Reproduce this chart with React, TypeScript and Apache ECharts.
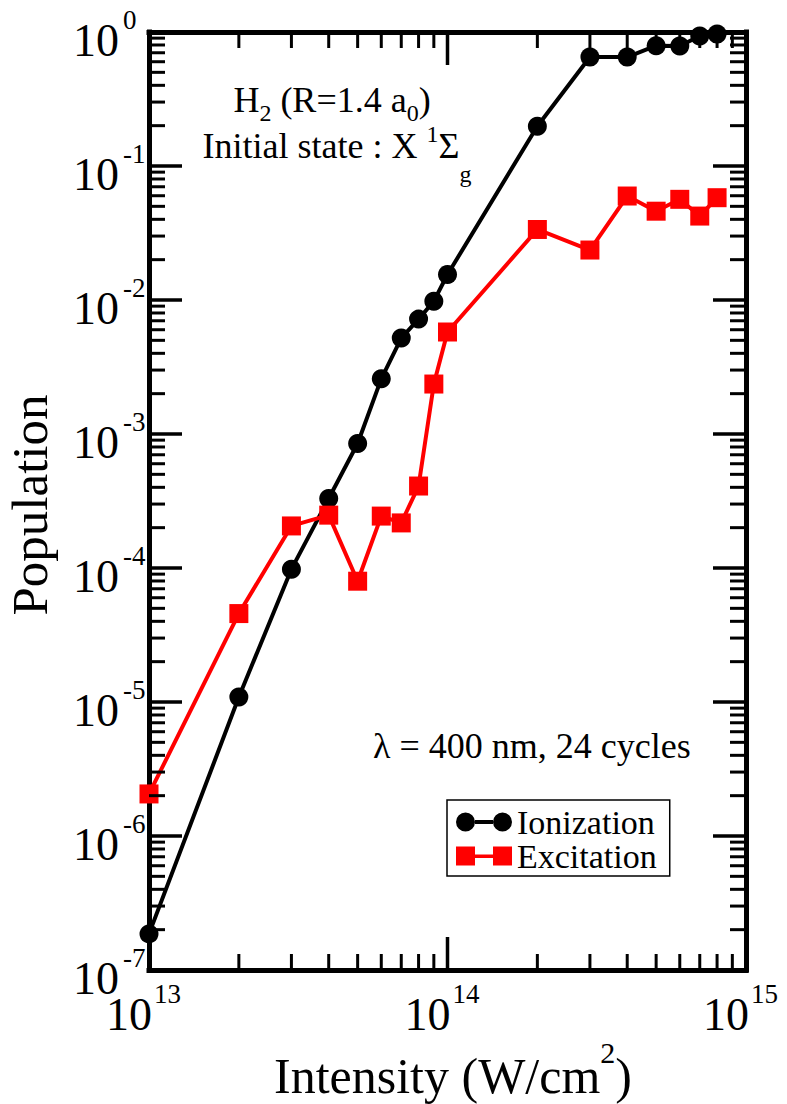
import React, { useEffect, useRef } from 'react';
import * as echarts from 'echarts';

// Laser intensity (W/cm^2)
const intensities = [1e13, 2e13, 3e13, 4e13, 5e13, 6e13, 7e13, 8e13, 9e13, 1e14, 2e14, 3e14, 4e14, 5e14, 6e14, 7e14, 8e14];
// Population values
const ionization = [1.86e-7, 1.09e-5, 9.8e-5, 3.3e-4, 8.5e-4, 2.58e-3, 5.2e-3, 7.2e-3, 9.8e-3, 1.55e-2, 0.198, 0.65, 0.65, 0.79, 0.785, 0.935, 0.965];
const excitation = [2.06e-6, 4.57e-5, 2.06e-4, 2.48e-4, 7.97e-5, 2.44e-4, 2.17e-4, 4.09e-4, 2.36e-3, 5.77e-3, 3.36e-2, 2.36e-2, 5.97e-2, 4.6e-2, 5.64e-2, 4.23e-2, 5.8e-2];

// Tick values
const xMajorTicks = [1e13, 1e14, 1e15];
const yMajorTicks = [1e-7, 1e-6, 1e-5, 1e-4, 1e-3, 1e-2, 1e-1, 1];
const minorMultipliers = [2, 3, 4, 5, 6, 7, 8, 9];
const xMinorTicks = xMajorTicks.slice(0, -1).flatMap((d) => minorMultipliers.map((m) => m * d));
const yMinorTicks = yMajorTicks.slice(0, -1).flatMap((d) => minorMultipliers.map((m) => m * d));

const seriesNames = ['Ionization', 'Excitation'];
const FONT = 'Liberation Serif';

const frameAxis = (position: string, min: number, max: number) => ({
  type: 'log',
  logBase: 10,
  position,
  min,
  max,
  axisLine: { show: true, lineStyle: { color: '#000', width: 5, cap: 'square' } },
  axisTick: { show: false },
  minorTick: { show: false },
  axisLabel: { show: false },
  splitLine: { show: false },
});

const circIcon = 'path://M0,9.5A9.5,9.5,0,1,1,19,9.5A9.5,9.5,0,1,1,0,9.5Z M19,7.5H37V11.5H19Z M37,9.5A9.5,9.5,0,1,1,56,9.5A9.5,9.5,0,1,1,37,9.5Z';
const rectIcon = 'path://M0,0H19V19H0Z M19,8H37V11.5H19Z M37,0H56V19H37Z';

const textGraphics: any[] = [
  {
    type: 'text',
    x: 332,
    y: 72,
    style: {
      text: '{m|H}{sb|2}{m| (R=1.4 a}{sb|0}{m|)}',
      align: 'center',
      verticalAlign: 'top',
      lineHeight: 60,
      rich: {
        m: { fontSize: 36, fontFamily: FONT, fill: '#000', verticalAlign: 'top', padding: [10, 0, 0, 0] },
        sb: { fontSize: 24, fontFamily: FONT, fill: '#000', verticalAlign: 'top', padding: [29, 0, 0, 0] },
      },
    },
  },
  {
    type: 'text',
    x: 337,
    y: 118,
    style: {
      text: '{m|Initial state : X }{sp|1}{m|Σ}{sb|g}',
      align: 'center',
      verticalAlign: 'top',
      lineHeight: 70,
      rich: {
        m: { fontSize: 36, fontFamily: FONT, fill: '#000', verticalAlign: 'top', padding: [10, 0, 0, 0] },
        sp: { fontSize: 24, fontFamily: FONT, fill: '#000', verticalAlign: 'top', padding: [4, 0, 0, 0] },
        sb: { fontSize: 24, fontFamily: FONT, fill: '#000', verticalAlign: 'top', padding: [44, 0, 0, 0] },
      },
    },
  },
  {
    type: 'text',
    x: 373,
    y: 746,
    style: { text: 'λ = 400 nm, 24 cycles', fontSize: 36, fontFamily: FONT, fill: '#000', align: 'left', verticalAlign: 'middle' },
  },
  {
    type: 'text',
    x: 453,
    y: 1030,
    style: {
      text: '{m|Intensity (W/cm}{s|2}{m|)}',
      align: 'center',
      verticalAlign: 'top',
      lineHeight: 70,
      rich: {
        m: { fontSize: 50, fontFamily: FONT, fill: '#000', verticalAlign: 'top', padding: [21, 0, 0, 0] },
        s: { fontSize: 30, fontFamily: FONT, fill: '#000', verticalAlign: 'top', padding: [7, 0, 0, 0] },
      },
    },
  },
  {
    type: 'text',
    x: 30,
    y: 505,
    rotation: Math.PI / 2,
    style: { text: 'Population', fontSize: 51, fontFamily: FONT, fill: '#000', align: 'center', verticalAlign: 'middle' },
  },
];

export default function App() {
  const ref = useRef<HTMLDivElement>(null);
  useEffect(() => {
    if (!ref.current) return;
    const chart = echarts.init(ref.current, undefined, { renderer: 'svg' });
    chart.setOption({
      animation: false,
      backgroundColor: '#fff',
      grid: { left: 149, right: 41, top: 32, bottom: 134, containLabel: false, outerBoundsMode: 'none' },
      xAxis: [frameAxis('bottom', 1e13, 1e15), frameAxis('top', 1e13, 1e15)],
      yAxis: [frameAxis('left', 1e-7, 1), frameAxis('right', 1e-7, 1)],
      legend: {
        orient: 'vertical',
        left: 447,
        top: 800,
        padding: [5, 13, 3, 9],
        itemGap: 0,
        itemWidth: 56,
        itemHeight: 19,
        backgroundColor: '#fff',
        borderColor: '#000',
        borderWidth: 1.5,
        borderRadius: 0,
        textStyle: { fontFamily: FONT, fontSize: 34, color: '#000', lineHeight: 34 },
        data: [
          { name: seriesNames[0], icon: circIcon },
          { name: seriesNames[1], icon: rectIcon },
        ],
      },
      series: [
        {
          name: seriesNames[0],
          type: 'line',
          xAxisIndex: 0,
          yAxisIndex: 0,
          data: intensities.map((x, i) => [x, ionization[i]]),
          symbol: 'circle',
          symbolSize: 19,
          clip: false,
          itemStyle: { color: '#000' },
          lineStyle: { color: '#000', width: 4 },
          z: 3,
        },
        {
          name: seriesNames[1],
          type: 'line',
          xAxisIndex: 0,
          yAxisIndex: 0,
          data: intensities.map((x, i) => [x, excitation[i]]),
          symbol: 'rect',
          symbolSize: 19,
          clip: false,
          itemStyle: { color: '#ff0000' },
          lineStyle: { color: '#ff0000', width: 4 },
          z: 4,
        },
      ],
    });

    // tick marks and tick labels, placed through the axes' own scales
    const px = (v: number) => Number(chart.convertToPixel({ xAxisIndex: 0 }, v));
    const py = (v: number) => Number(chart.convertToPixel({ yAxisIndex: 0 }, v));
    const xL = px(1e13);
    const xR = px(1e15);
    const yT = py(1);
    const yB = py(1e-7);
    const g: any[] = [...textGraphics];
    const bar = (x: number, y: number, width: number, height: number) => ({
      type: 'rect',
      z: 10,
      zlevel: 0,
      shape: { x, y, width, height },
      style: { fill: '#000', opacity: 1 },
    });
    const addX = (vals: number[], len: number, w: number) =>
      vals.forEach((v) => {
        const x = px(v);
        g.push(bar(x - w / 2, yB - len, w, len), bar(x - w / 2, yT, w, len));
      });
    const addY = (vals: number[], len: number, w: number) =>
      vals.forEach((v) => {
        const y = py(v);
        g.push(bar(xL, y - w / 2, len, w), bar(xR - len, y - w / 2, len, w));
      });
    addX(xMajorTicks, 33, 3.5);
    addX(xMinorTicks, 16, 3);
    addY(yMajorTicks, 33, 3.5);
    addY(yMinorTicks, 16, 3);
    const txt = (x: number, y: number, text: string, size: number, align: string) => ({
      type: 'text',
      x,
      y,
      style: { text, fontSize: size, fontFamily: FONT, fill: '#000', align, verticalAlign: 'middle' },
    });
    yMajorTicks.forEach((v) => {
      const y = py(v);
      g.push(txt(xL - 30, y + 8.5, '10', 46, 'right'));
      g.push(txt(xL - 26, y - 12, String(Math.round(Math.log10(v))), 27, 'left'));
    });
    xMajorTicks.forEach((v) => {
      const x = px(v);
      g.push(txt(x + 3, yB + 44, '10', 46, 'right'));
      g.push(txt(x + 5, yB + 24, String(Math.round(Math.log10(v))), 27, 'left'));
    });
    chart.setOption({ graphic: g });
    return () => chart.dispose();
  }, []);
  return <div ref={ref} style={{ position: 'fixed', left: 0, top: 0, width: 787, height: 1104, background: '#fff' }} />;
}
